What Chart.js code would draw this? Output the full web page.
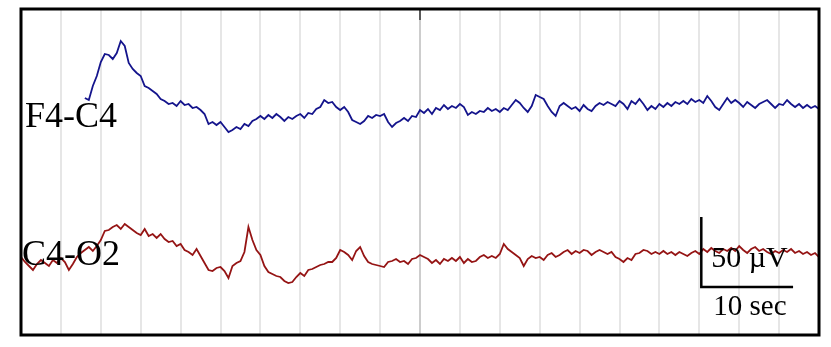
<!DOCTYPE html>
<html>
<head>
<meta charset="utf-8">
<script src="https://cdn.jsdelivr.net/npm/chart.js@4/dist/chart.umd.min.js"></script>
<style>
  html, body { margin: 0; padding: 0; background: #fff; }
  #wrap { width: 831px; height: 347px; position: relative; }
</style>
</head>
<body>
<div id="wrap"><canvas id="eeg"></canvas></div>
<script>
// two EEG channels, sampled every 0.1 s on a 20 s page (negative-up convention, so the y axis is reversed)
const SAMPLE_STEP = 0.1;
const channelNames = ['F4-C4', 'C4-O2'];
const f4c4Start = 1.6;
const f4c4 = [
  98,100,86,76,62,54,55,59,53,41,46,63,69,73,76,86,88,91,94,99,
  101,104,103,106,101,105,104,108,107,110,114,124,122,125,122,127,132,130,127,129,
  124,126,121,119,116,119,115,118,114,117,121,117,119,116,114,118,113,114,109,107,
  100,103,102,107,110,107,112,120,122,124,121,116,118,115,116,114,122,127,123,121,
  118,121,116,117,110,113,109,114,108,110,105,109,106,108,104,107,115,112,114,111,
  112,108,111,109,112,108,110,105,100,103,108,112,106,95,97,99,106,112,116,106,
  103,106,109,107,111,105,109,111,106,103,105,102,104,106,101,104,109,101,104,99,
  104,110,106,109,104,107,103,106,102,104,101,104,99,102,100,103,96,101,107,110,
  104,98,103,100,103,107,102,105,108,104,102,100,104,108,104,105,100,104,107,104,
  108,105,108,106,109
];
const c4o2Start = 0;
const c4o2 = [
  257,262,266,270,264,260,263,266,260,263,258,262,270,264,257,253,250,247,251,246,
  240,231,230,227,225,229,224,227,230,233,235,229,236,234,238,234,239,242,241,246,
  244,250,252,255,249,256,263,270,271,268,267,271,278,266,263,261,252,227,240,250,
  255,266,272,274,276,277,281,283,282,277,273,276,270,269,267,265,264,262,262,258,
  250,252,255,260,251,247,256,262,264,265,266,267,262,261,259,262,261,264,259,258,
  255,257,259,263,260,264,259,261,258,261,257,263,259,262,261,257,255,258,256,258,
  254,244,249,252,255,258,266,259,256,258,257,260,255,253,257,255,252,250,254,251,
  253,250,251,255,252,250,252,254,252,257,259,262,258,260,254,253,250,251,254,252,
  254,251,254,252,255,252,254,256,253,251,254,249,252,248,251,253,249,251,248,251,
  246,250,253,249,247,251,249,252,254,251,253,250,252,249,253,251,254,252,255,253,
  257
];
const secTicks = [0,1,2,3,4,5,6,7,8,9,10,11,12,13,14,15,16,17,18,19,20];
const scaleBarLabels = ['50 \u00b5V', '10 sec'];

function toPoints(start, vals){
  return vals.map((v,i)=>({ x: +(start + i*SAMPLE_STEP).toFixed(2), y: v }));
}

const serif = '"Liberation Serif", "DejaVu Serif", serif';

const overlay = {
  id: 'overlay',
  afterDatasetsDraw(chart){
    const { ctx, chartArea: a, scales } = chart;
    const xs = scales.x, ys = scales.y;
    ctx.save();
    // small marker at top of the 10 s line
    ctx.strokeStyle = '#333';
    ctx.lineWidth = 1.5;
    ctx.beginPath();
    ctx.moveTo(xs.getPixelForValue(10), a.top);
    ctx.lineTo(xs.getPixelForValue(10), a.top + 11);
    ctx.stroke();

    // channel labels
    ctx.fillStyle = '#000';
    ctx.font = '36px ' + serif;
    ctx.textBaseline = 'alphabetic';
    ctx.fillText(channelNames[0], a.left + 4, ys.getPixelForValue(127));
    ctx.fillText(channelNames[1], a.left + 1, ys.getPixelForValue(265));

    // scale bar
    const bx0 = xs.getPixelForValue(17.05), bx1 = xs.getPixelForValue(19.35);
    const by0 = ys.getPixelForValue(217), by1 = ys.getPixelForValue(287);
    ctx.strokeStyle = '#000';
    ctx.lineWidth = 2.5;
    ctx.beginPath();
    ctx.moveTo(bx0, by0);
    ctx.lineTo(bx0, by1);
    ctx.lineTo(bx1, by1);
    ctx.stroke();
    ctx.font = '30px ' + serif;
    ctx.fillText(scaleBarLabels[0], bx0 + 10, ys.getPixelForValue(267));
    ctx.font = '29px ' + serif;
    ctx.fillText(scaleBarLabels[1], bx0 + 12, ys.getPixelForValue(315));

    // frame
    ctx.lineWidth = 3;
    ctx.strokeRect(a.left, a.top, a.right - a.left, a.bottom - a.top);
    ctx.restore();
  }
};

new Chart(document.getElementById('eeg').getContext('2d'), {
  type: 'line',
  data: {
    datasets: [
      { label: channelNames[0], data: toPoints(f4c4Start, f4c4), borderColor: '#14148c', borderWidth: 1.8, pointRadius: 0, tension: 0 },
      { label: channelNames[1], data: toPoints(c4o2Start, c4o2), borderColor: '#951414', borderWidth: 1.8, pointRadius: 0, tension: 0 }
    ]
  },
  options: {
    responsive: true,
    maintainAspectRatio: false,
    animation: false,
    layout: { padding: { left: 21, right: 12, top: 9, bottom: 12 } },
    plugins: { legend: { display: false }, tooltip: { enabled: false } },
    scales: {
      x: {
        type: 'linear', min: 0, max: 20,
        afterBuildTicks: (s) => { s.ticks = secTicks.map(v => ({ value: v })); },
        ticks: { display: false },
        border: { display: false },
        grid: {
          drawTicks: false,
          lineWidth: 2,
          color: (c) => c.tick && c.tick.value === 10 ? '#cdcdcd' : '#e6e6e6'
        }
      },
      y: { display: false, reverse: true, min: 9, max: 335 }
    }
  },
  plugins: [overlay]
});
</script>
</body>
</html>
